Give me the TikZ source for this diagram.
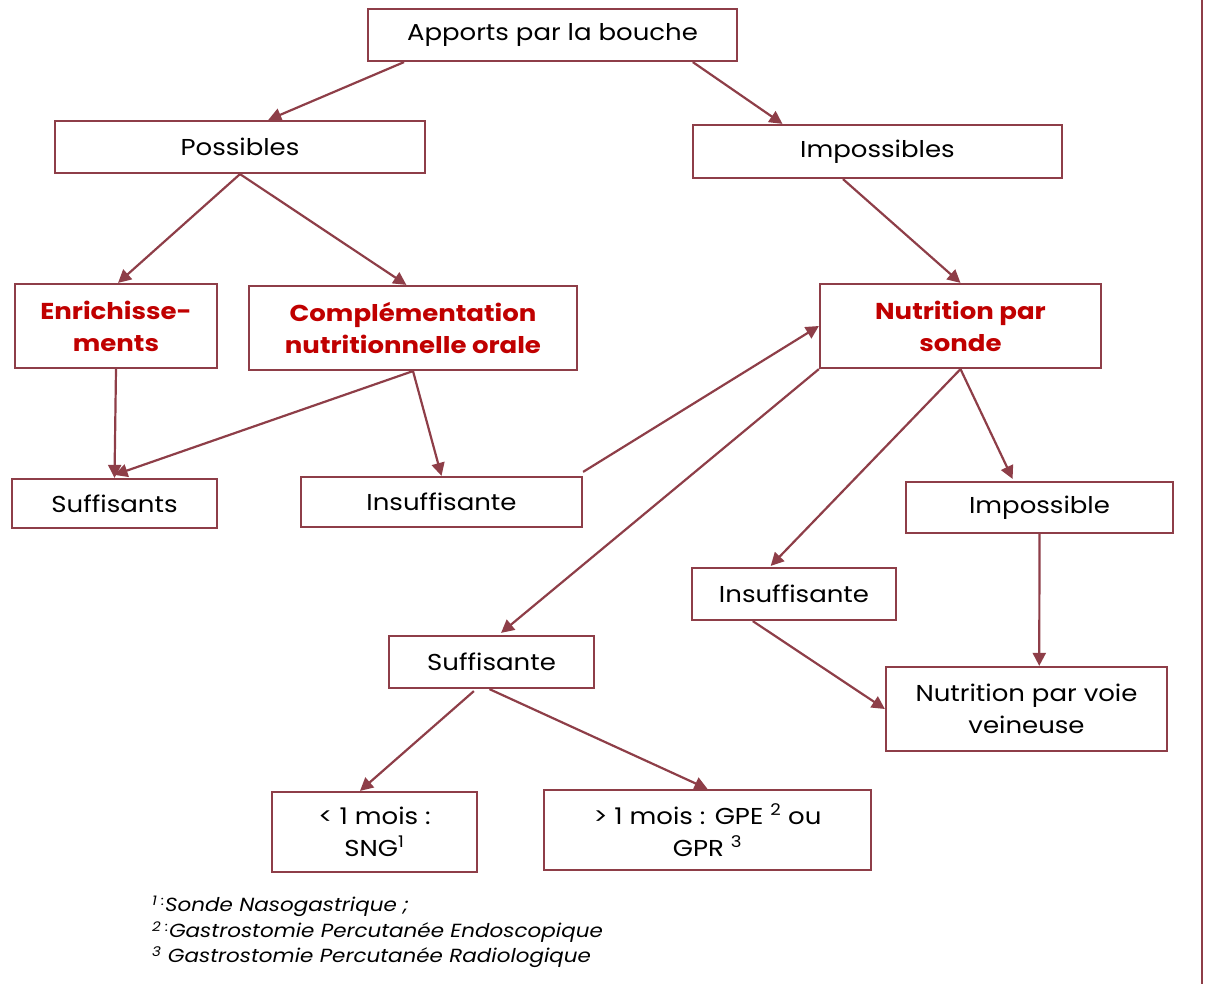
\documentclass[tikz,border=0pt]{standalone}
\usepackage{fontspec}
\setmainfont{Poppins}[FakeStretch=1.13]
\usetikzlibrary{arrows.meta,calc}
\definecolor{bord}{RGB}{142,62,72}
\definecolor{redtxt}{RGB}{192,0,0}
\begin{document}
\begin{tikzpicture}[x=1pt,y=1pt,
  box/.style={draw=bord,line width=2.2pt,rectangle,inner sep=0pt,align=center,
    font=\fontsize{23}{32}\selectfont,text=black},
  hbox/.style={box,font=\fontsize{23}{32}\selectfont\bfseries,text=redtxt},
  arr/.style={draw=bord,line width=2.2pt,-{Triangle[width=13pt,length=13pt]}},
  plain/.style={draw=bord,line width=2.4pt},
  note/.style={anchor=west,inner sep=0pt,font=\fontsize{19}{20}\selectfont\itshape}]
\useasboundingbox (0,0) rectangle (1206,-984);
\newcommand{\bx}[7]{\node[#1,minimum width={#5-#3},minimum height={#6-#4}] (#2) at ({(#3+#5)/2},{-(#4+#6)/2}) {#7};}
\bx{box}{apports}{368}{9}{737}{61}{Apports par la bouche}
\bx{box}{poss}{55}{121}{425}{173}{Possibles}
\bx{box}{imposs}{693}{125}{1062}{178}{Impossibles}
\bx{hbox}{enrich}{15}{284}{217}{368}{Enrichisse-\\ments}
\bx{hbox}{compl}{249}{286}{577}{370}{Complémentation\\nutritionnelle orale}
\bx{hbox}{sonde}{820}{284}{1101}{368}{Nutrition par\\sonde}
\bx{box}{suffs}{12}{479}{217}{528}{Suffisants}
\bx{box}{insufL}{301}{477}{582}{527}{Insuffisante}
\bx{box}{impossible}{906}{482}{1173}{533}{Impossible}
\bx{box}{insufR}{692}{568}{896}{620}{Insuffisante}
\bx{box}{suffte}{389}{636}{594}{688}{Suffisante}
\bx{box}{veine}{886}{667}{1167}{751}{Nutrition par voie\\veineuse}
\bx{box}{moins}{272}{792}{477}{872}{< 1 mois :\\SNG\textsuperscript{1}}
\bx{box}{plus}{544}{790}{871}{870}{> 1 mois : GPE \textsuperscript{2} ou\\GPR \textsuperscript{3}}
% connectors
\draw[arr] ($(apports.south west)!0.10!(apports.south east)$) -- ($(poss.north west)!0.576!(poss.north east)$);
\draw[arr] ($(apports.south west)!0.878!(apports.south east)$) -- ($(imposs.north west)!0.244!(imposs.north east)$);
\draw[arr] (poss.south) -- ($(enrich.north west)!0.51!(enrich.north east)$);
\draw[arr] (poss.south) -- ($(compl.north west)!0.48!(compl.north east)$);
\draw[arr] ($(imposs.south west)!0.407!(imposs.south east)$) -- (sonde.north);
\draw[arr] (enrich.south) -- (suffs.north);
\draw[arr] (compl.south) -- ([yshift=3pt]suffs.north);
\draw[arr] (compl.south) -- (insufL.north);
\coordinate (lstart) at ([yshift=4pt]insufL.north east);
\draw[arr] (lstart) -- (sonde.west);
\draw[arr] (sonde.south west) -- ([yshift=2pt]$(suffte.north west)!0.546!(suffte.north east)$);
\draw[arr] (sonde.south) -- ([yshift=1pt]$(insufR.north west)!0.387!(insufR.north east)$);
\draw[arr] (sonde.south) -- ([yshift=2pt]$(impossible.north west)!0.40!(impossible.north east)$);
\draw[arr] ($(impossible.south west)!0.5!(impossible.south east)$) -- ($(veine.north west)!0.545!(veine.north east)$);
\draw[arr] ($(insufR.south west)!0.3!(insufR.south east)$) -- (veine.west);
\draw[arr] ([yshift=-2pt]$(suffte.south west)!0.415!(suffte.south east)$) -- ($(moins.north west)!0.43!(moins.north east)$);
\draw[arr] ($(suffte.south west)!0.49!(suffte.south east)$) -- (plus.north);
% right vertical rule
\coordinate (rtop) at (1202,0);
\coordinate (rbot) at (1202,-984);
\draw[plain] (rtop) -- (rbot);
% footnotes
\node[note] (n1) at (152,-906) {\textsuperscript{1 :}Sonde Nasogastrique ;};
\node[note] (n2) at (152,-932) {\textsuperscript{2 :}Gastrostomie Percutanée Endoscopique};
\node[note] (n3) at (152,-957) {\textsuperscript{3} Gastrostomie Percutanée Radiologique};
\end{tikzpicture}
\end{document}
